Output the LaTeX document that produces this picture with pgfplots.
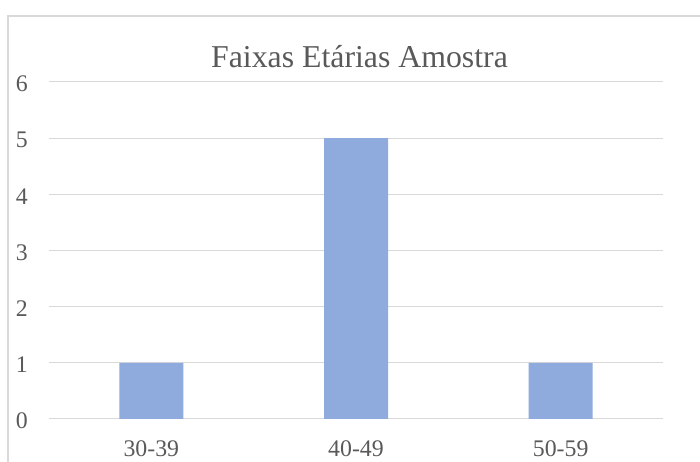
\documentclass[border=0pt]{standalone}
\usepackage{pgfplots}
\pgfplotsset{compat=1.18}
\usepackage{fontspec}
\setmainfont{Liberation Serif}
\definecolor{txt}{HTML}{595959}
\definecolor{gridc}{HTML}{D9D9D9}
\definecolor{barc}{HTML}{8FAADC}
\begin{document}
\begin{tikzpicture}[x=1pt,y=1pt]
\useasboundingbox (0,0) rectangle (700,462);
\draw[gridc, line width=1.2pt] (8,-2) -- (8,446) -- (702,446);
\node[anchor=base, text=txt, font=\fontsize{31.8}{38}\selectfont, inner sep=0pt] at (359.5,394.3) {Faixas Etárias Amostra};
\begin{axis}[
  at={(49pt,43pt)}, anchor=south west,
  scale only axis, width=614pt, height=337pt,
  ymin=0, ymax=6, ytick={0,1,2,3,4,5,6},
  xmin=-0.5, xmax=2.5, enlargelimits=false,
  xtick=data, xticklabels={30-39,40-49,50-59},
  ybar, bar width=64pt,
  axis line style={draw=none},
  major tick length=0pt,
  ymajorgrids, grid style={gridc, line width=1pt},
  tick label style={text=txt, font=\fontsize{23.8}{28}\selectfont},
  /pgf/number format/assume math mode=true,
  yticklabel style={inner sep=0pt, anchor=east, xshift=-21pt, yshift=-2pt},
  xticklabel style={inner sep=0pt, anchor=base, yshift=-37.7pt},
]
\addplot[fill=barc, draw=none] coordinates {(0,1) (1,5) (2,1)};
\end{axis}
\end{tikzpicture}
\end{document}
